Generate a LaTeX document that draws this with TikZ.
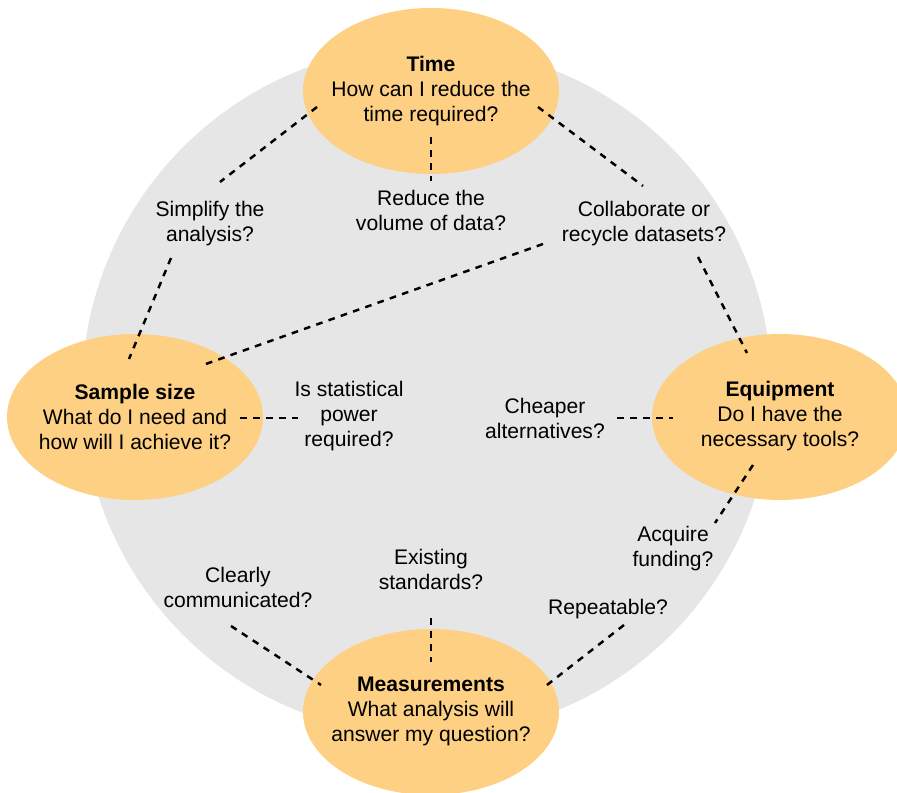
\documentclass[tikz,border=0pt]{standalone}
\usepackage{fontspec}
\setmainfont{Liberation Sans}
\usetikzlibrary{positioning}
\definecolor{ringgray}{RGB}{230,230,230}
\definecolor{bubbleorange}{RGB}{253,208,132}

\begin{document}
\begin{tikzpicture}[x=0.02cm,y=-0.02cm,
  bubble/.style={fill=bubbleorange},
  topic/.style={align=center,font=\fontsize{12}{14.2}\selectfont},
  lbl/.style={align=center,font=\fontsize{12}{14.2}\selectfont},
  link/.style={line width=1.4pt,dash pattern=on 3.8pt off 3.6pt}]
\clip (0,0) rectangle (897,793);
% background ring and the four topics
\fill[ringgray] (427,391) circle[radius=6.9cm];
\fill[bubble] (431,91) ellipse[x radius=2.56cm,y radius=1.66cm];
\fill[bubble] (135,417) ellipse[x radius=2.56cm,y radius=1.66cm];
\fill[bubble] (780,417) ellipse[x radius=2.56cm,y radius=1.66cm];
\fill[bubble] (431,712) ellipse[x radius=2.56cm,y radius=1.66cm];
\node[topic] (time) at (431,91) {\textbf{Time}\\How can I reduce the\\time required?};
\node[topic] (sample) at (135,417) {\textbf{Sample size}\\What do I need and\\how will I achieve it?};
\node[topic] (equip) at (780,416) {\textbf{Equipment}\\Do I have the\\necessary tools?};
\node[topic] (measure) at (431,711) {\textbf{Measurements}\\What analysis will\\answer my question?};
% questions
\node[lbl] (simplify) at (210,224) {Simplify the\\analysis?};
\node[lbl] (reduce) at (431,210) {Reduce the\\volume of data?};
\node[lbl] (collab) at (644,224) {Collaborate or\\recycle datasets?};
\node[lbl] (power) at (349,416) {Is statistical\\power\\required?};
\node[lbl] (cheaper) at (545,418) {Cheaper\\alternatives?};
\node[lbl] (acquire) at (673,549) {Acquire\\funding?};
\node[lbl] (existing) at (431,569) {Existing\\standards?};
\node[lbl] (clearly) at (238,587) {Clearly\\communicated?};
\node[lbl] (repeatable) at (608,609) {Repeatable?};
% connector ends
\coordinate (time-w) at (317,107);
\coordinate (time-s) at (431,137);
\coordinate (time-e) at (538,107);
\coordinate (simplify-n) at (220,182);
\coordinate (simplify-s) at (171,258);
\coordinate (reduce-n) at (431,181);
\coordinate (collab-n) at (643,186);
\coordinate (collab-w) at (543,244);
\coordinate (collab-s) at (698,257);
\coordinate (sample-n) at (129,359);
\coordinate (sample-ne) at (203,365);
\coordinate (sample-e) at (240,418);
\coordinate (power-w) at (298,418);
\coordinate (cheaper-e) at (617,418);
\coordinate (equip-w) at (673,418);
\coordinate (equip-n) at (747,353);
\coordinate (equip-s) at (753,465);
\coordinate (acquire-n) at (715,523);
\coordinate (clearly-s) at (231,626);
\coordinate (measure-nw) at (321,685);
\coordinate (existing-s) at (431,618);
\coordinate (measure-n) at (431,662);
\coordinate (repeatable-s) at (624,625);
\coordinate (measure-ne) at (547,685);
\draw[link] (time-w) -- (simplify-n);
\draw[link] (time-s) -- (reduce-n);
\draw[link] (time-e) -- (collab-n);
\draw[link] (simplify-s) -- (sample-n);
\draw[link] (collab-w) -- (sample-ne);
\draw[link] (collab-s) -- (equip-n);
\draw[link] (sample-e) -- (power-w);
\draw[link] (cheaper-e) -- (equip-w);
\draw[link] (equip-s) -- (acquire-n);
\draw[link] (clearly-s) -- (measure-nw);
\draw[link] (existing-s) -- (measure-n);
\draw[link] (repeatable-s) -- (measure-ne);
\end{tikzpicture}
\end{document}
